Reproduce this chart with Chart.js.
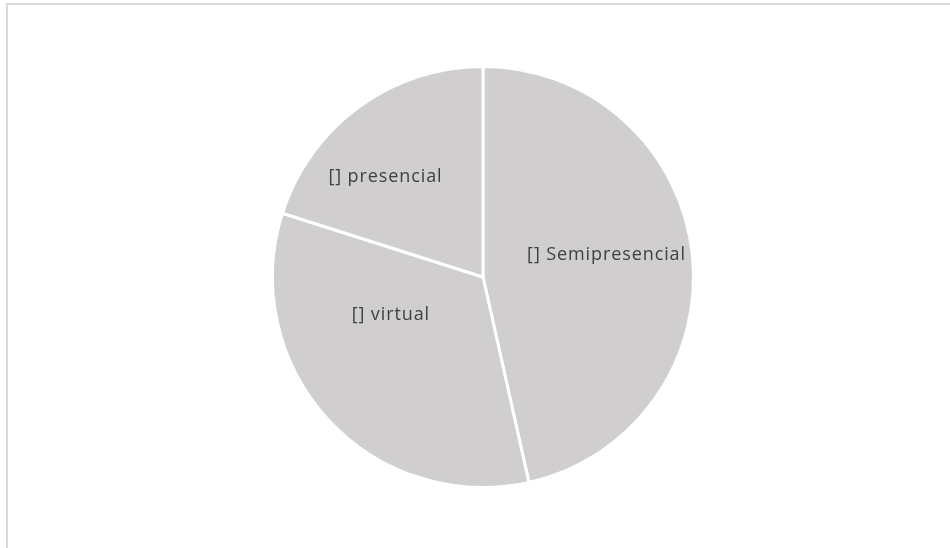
<!DOCTYPE html>
<html>
<head>
<meta charset="utf-8">
<script src="https://cdn.jsdelivr.net/npm/chart.js@4"></script>
<style>
html,body{margin:0;padding:0;background:#fff;}
#wrap{position:relative;width:950px;height:548px;}
</style>
</head>
<body>
<div id="wrap"><canvas id="c" width="950" height="548"></canvas></div>
<script>
const categories = ["[] Semipresencial", "[] virtual", "[] presencial"];
const values = [46.5, 33.4, 20.1];
const sliceColors = ["#d0cece", "#d0cece", "#d0cece"];

const frame = {
  id: 'frame',
  beforeDraw(chart) {
    const ctx = chart.ctx;
    ctx.save();
    ctx.fillStyle = '#d9d9d9';
    ctx.fillRect(6, 3, 944, 2);
    ctx.fillRect(6, 3, 2, 545);
    ctx.restore();
  }
};

const sliceLabels = {
  id: 'sliceLabels',
  afterDatasetsDraw(chart, args, opts) {
    const ctx = chart.ctx;
    const meta = chart.getDatasetMeta(0);
    ctx.save();
    ctx.font = opts.font;
    ctx.fillStyle = opts.color;
    ctx.textAlign = 'center';
    ctx.textBaseline = 'middle';
    if ('letterSpacing' in ctx) ctx.letterSpacing = opts.letterSpacing;
    meta.data.forEach((arc, i) => {
      const p = arc.getProps(['x','y','startAngle','endAngle','outerRadius'], true);
      const mid = (p.startAngle + p.endAngle) / 2;
      const r = p.outerRadius * opts.fraction;
      const off = opts.nudge[i] || [0,0];
      const x = p.x + Math.cos(mid) * r + off[0];
      const y = p.y + Math.sin(mid) * r + off[1];
      ctx.fillText(chart.data.labels[i], x, y);
    });
    ctx.restore();
  }
};

new Chart(document.getElementById('c'), {
  type: 'pie',
  data: {
    labels: categories,
    datasets: [{
      data: values,
      backgroundColor: sliceColors,
      borderColor: '#ffffff',
      borderWidth: 3
    }]
  },
  options: {
    responsive: false,
    animation: false,
    layout: { padding: { left: 271, right: 255, top: 65, bottom: 59 } },
    plugins: {
      legend: { display: false },
      tooltip: { enabled: false },
      sliceLabels: {
        font: '18px "Open Sans"',
        color: '#404040',
        letterSpacing: '0.9px',
        fraction: 0.6,
        nudge: [[-2,-8],[1,-47],[-23,2]]
      }
    }
  },
  plugins: [frame, sliceLabels]
});
</script>
</body>
</html>
